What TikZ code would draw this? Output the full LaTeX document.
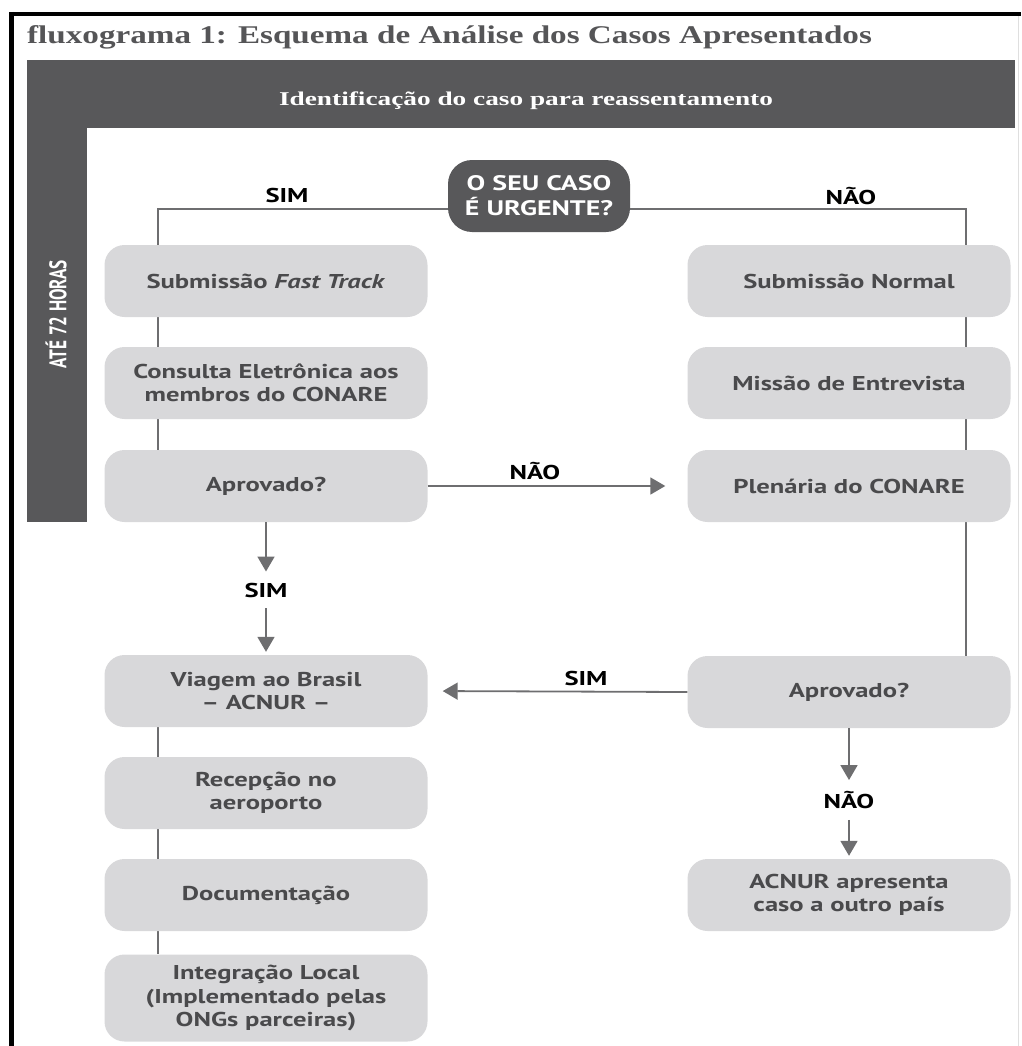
\documentclass[tikz,border=0pt]{standalone}
\usepackage{fontspec}
\setsansfont[FakeStretch=1.33]{PT Sans}
\newfontfamily\titlefont[FakeStretch=1.3]{Liberation Serif}
\newfontfamily\headfont[FakeStretch=1.4]{Liberation Serif}
\usetikzlibrary{arrows.meta,backgrounds}
\definecolor{dk}{HTML}{58585A}
\definecolor{bx}{HTML}{D8D8DA}
\definecolor{tx}{HTML}{4A4A4C}
\definecolor{ln}{HTML}{6E6E70}
\definecolor{ttl}{HTML}{555557}
\begin{document}
\begin{tikzpicture}[x=1pt,y=-1pt,
  box/.style={rounded corners=20pt, fill=bx, minimum width=323pt, minimum height=72pt,
    align=center, inner sep=0pt, text=tx, font=\sffamily\bfseries\fontsize{20}{23.5}\selectfont},
  dec/.style={rounded corners=24pt, fill=dk, minimum width=182pt, minimum height=72pt,
    align=center, inner sep=0pt, text=white, font=\sffamily\bfseries\fontsize{21}{25}\selectfont},
  lbl/.style={inner sep=11pt, text=black, font=\sffamily\bfseries\fontsize{20}{22}\selectfont},
  conn/.style={draw=ln, line width=1.8pt},
  arr/.style={conn, -{Triangle[length=15pt,width=17pt]}}]
\useasboundingbox (0,0) rectangle (1021,1046);
% frame
\draw[gray!25, line width=0.8pt] (1018,16) -- (1018,1046);
\draw[black, line width=4pt] (9,14) -- (1021,14);
\draw[black, line width=5pt] (11.5,12) -- (11.5,1046);
% title
\node[anchor=base west, inner sep=0pt, text=ttl, font=\titlefont\bfseries\fontsize{25.5}{30}\selectfont] (title) at (27,44) {fluxograma 1: Esquema de Análise dos Casos Apresentados};
% header band and side bar
\fill[dk] (27,60) rectangle (1015,128);
\fill[dk] (27,60) rectangle (87,522);
\node[text=white, inner sep=0pt, font=\headfont\bfseries\fontsize{19.5}{22}\selectfont] (head) at (526,101) {Identificação do caso para reassentamento};
\node[rotate=90, text=white, inner sep=0pt, font=\sffamily\bfseries\fontsize{24}{26}\selectfont] (hrs) at (56,314) {\scalebox{0.54}[1]{ATÉ 72 HORAS}};
% nodes
\node[dec] (urg) at (539,196) {O SEU CASO\\É URGENTE?};
\node[box] (fast) at (266,281) {Submissão \textit{Fast Track}};
\node[box] (cons) at (266,383) {Consulta Eletrônica aos\\membros do CONARE};
\node[box] (apl) at (266,486) {Aprovado?};
\node[box] (viag) at (266,691) {Viagem ao Brasil\\– ACNUR –};
\node[box] (recep) at (266,793) {Recepção no\\aeroporto};
\node[box] (docum) at (266,895) {Documentação};
\node[box, minimum height=87pt] (integ) at (266,998) {Integração Local\\(Implementado pelas\\ONGs parceiras)};
\node[box] (snorm) at (849,281) {Submissão Normal};
\node[box] (miss) at (849,383) {Missão de Entrevista};
\node[box] (plen) at (849,486) {Plenária do CONARE};
\node[box] (apr) at (849,692) {Aprovado?};
\node[box] (acnur) at (849,895) {ACNUR apresenta\\caso a outro país};
% labels
\node[lbl] (sim1) at (287,195) {SIM};
\node[lbl] (nao1) at (851,196) {NÃO};
\node[lbl] (nao2) at (535,471) {NÃO};
\node[lbl] (sim2) at (266,590) {SIM};
\node[lbl] (sim3) at (586,678) {SIM};
\node[lbl] (nao3) at (849,800) {NÃO};
\coordinate (L) at (158,209);
\coordinate (R) at (966,209);
% connectors
\begin{scope}[on background layer]
\draw[conn] (urg.west |- L) -| (fast.north -| L);
\draw[conn] (fast.south -| L) -- (cons.north -| L);
\draw[conn] (cons.south -| L) -- (apl.north -| L);
\draw[conn] (viag.south -| L) -- (recep.north -| L);
\draw[conn] (recep.south -| L) -- (docum.north -| L);
\draw[conn] (docum.south -| L) -- (integ.north -| L);
\draw[conn] (urg.east |- R) -| (snorm.north -| R);
\draw[conn] (snorm.south -| R) -- (miss.north -| R);
\draw[conn] (miss.south -| R) -- (plen.north -| R);
\draw[conn] (plen.south -| R) -- (apr.north -| R);
\end{scope}
\draw[arr, shorten >=22pt] (apl.east) -- (plen.west);
\draw[arr] (apl.south) -- (sim2.north);
\draw[arr, shorten >=3pt] (sim2.south) -- (viag.north);
\draw[arr, shorten >=15pt] (apr.west) -- (viag.east);
\draw[arr] (apr.south) -- (nao3.north);
\draw[arr, shorten >=3pt] (nao3.south) -- (acnur.north);
\end{tikzpicture}
\end{document}
